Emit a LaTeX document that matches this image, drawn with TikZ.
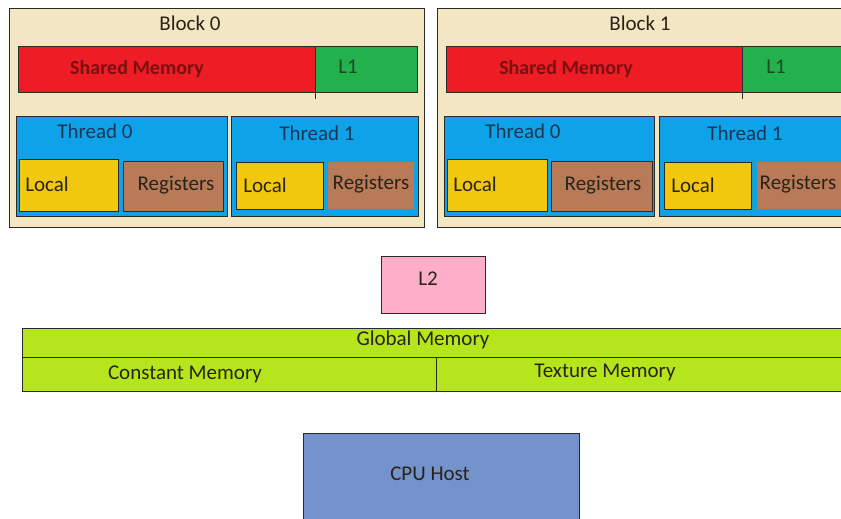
\documentclass[tikz,border=0pt]{standalone}
\usepackage{fontspec}
\setmainfont{Carlito}
\definecolor{beige}{HTML}{F3E7C3}
\definecolor{smred}{HTML}{EE1C24}
\definecolor{lgreen}{HTML}{22B14C}
\definecolor{thblue}{HTML}{0EA2E8}
\definecolor{locyel}{HTML}{F2C80F}
\definecolor{regbrown}{HTML}{B97A57}
\definecolor{lpink}{HTML}{FFAEC9}
\definecolor{lime}{HTML}{B5E61D}
\definecolor{cpublue}{HTML}{7492CB}
\definecolor{edge}{HTML}{2A2A2A}
\definecolor{smtext}{HTML}{7A1010}
\definecolor{thtext}{HTML}{1B3556}
\definecolor{ltext}{HTML}{1E4A22}
\definecolor{dtext}{HTML}{2A2418}
\newcommand\mybox[6]{%
  \node[memrect,#6,anchor=north west,minimum width={(#4)-(#2)},minimum height={(#5)-(#3)}] (#1) at (#2,#3) {};}
\begin{document}
\begin{tikzpicture}[x=1pt,y=-1pt,
  memrect/.style={draw=edge,line width=0.9pt,inner sep=0pt,outer sep=0pt,rectangle},
  noedge/.style={draw=none},
  lbl/.style={font=\fontsize{21}{23}\selectfont,text=dtext,inner sep=0pt},
  smlbl/.style={font=\fontsize{20}{22}\selectfont\bfseries,text=smtext,inner sep=0pt}]
\useasboundingbox (0,0) rectangle (841,519);
\clip (0,0) rectangle (841,519);
% Block 0
\mybox{blk0}{9}{8}{424}{227}{fill=beige}
\mybox{sm0}{18}{46}{315}{92}{fill=smred}
\mybox{lone0}{315}{46}{417}{92}{fill=lgreen}
\coordinate (tick0) at ([yshift=-7pt]sm0.south east);
\draw[draw=edge,line width=0.9pt] (sm0.south east) -- (tick0);
\mybox{th00}{16}{116}{227}{216}{fill=thblue}
\mybox{th01}{231}{116}{418}{216}{fill=thblue}
\mybox{loc00}{19}{159}{118}{211}{fill=locyel}
\mybox{reg00}{123}{161}{223}{211}{fill=regbrown}
\mybox{loc01}{236}{162}{323}{209}{fill=locyel}
\mybox{reg01}{328}{162}{414}{209}{fill=regbrown,noedge}
% Block 1
\mybox{blk1}{437}{8}{860}{227}{fill=beige}
\mybox{sm1}{446}{46}{742}{92}{fill=smred}
\mybox{lone1}{742}{46}{860}{92}{fill=lgreen}
\coordinate (tick1) at ([yshift=-7pt]sm1.south east);
\draw[draw=edge,line width=0.9pt] (sm1.south east) -- (tick1);
\mybox{th10}{444}{116}{654}{216}{fill=thblue}
\mybox{th11}{659}{116}{860}{216}{fill=thblue}
\mybox{loc10}{447}{159}{547}{211}{fill=locyel}
\mybox{reg10}{551}{161}{652}{211}{fill=regbrown}
\mybox{loc11}{664}{162}{751}{209}{fill=locyel}
\mybox{reg11}{757}{162}{860}{209}{fill=regbrown,noedge}
% lower part
\mybox{ltwo}{381}{256}{485}{313}{fill=lpink}
\mybox{glob}{22}{328}{860}{357}{fill=lime}
\mybox{const}{22}{357}{436}{391}{fill=lime}
\mybox{tex}{436}{357}{860}{391}{fill=lime}
\mybox{cpu}{303}{433}{579}{540}{fill=cpublue}
% labels
\node[lbl] (tb0) at (190,23) {Block 0};
\node[lbl] (tb1) at (640,23) {Block 1};
\node[smlbl] (tsm0) at (137,69) {Shared Memory};
\node[smlbl] (tsm1) at (566,69) {Shared Memory};
\node[lbl,text=ltext] (tl0) at (348,67) {L1};
\node[lbl,text=ltext] (tl1) at (776,67) {L1};
\node[lbl,text=thtext] (tt00) at (95,131) {Thread 0};
\node[lbl,text=thtext] (tt01) at (317,133) {Thread 1};
\node[lbl,text=thtext] (tt10) at (523,131) {Thread 0};
\node[lbl,text=thtext] (tt11) at (745,133) {Thread 1};
\node[lbl] (tlo00) at (47,184) {Local};
\node[lbl] (tlo01) at (265,185) {Local};
\node[lbl] (tlo10) at (475,184) {Local};
\node[lbl] (tlo11) at (693,185) {Local};
\node[lbl] (tre00) at (176,185) {Registers};
\node[lbl] (tre01) at (371,184) {Registers};
\node[lbl] (tre10) at (603,185) {Registers};
\node[lbl] (tre11) at (798,184) {Registers};
\node[lbl] (tl2) at (428,279) {L2};
\node[lbl] (tglob) at (423,340) {Global Memory};
\node[lbl] (tconst) at (185,374) {Constant Memory};
\node[lbl] (ttex) at (605,372) {Texture Memory};
\node[lbl] (tcpu) at (430,474) {CPU Host};
\end{tikzpicture}
\end{document}
